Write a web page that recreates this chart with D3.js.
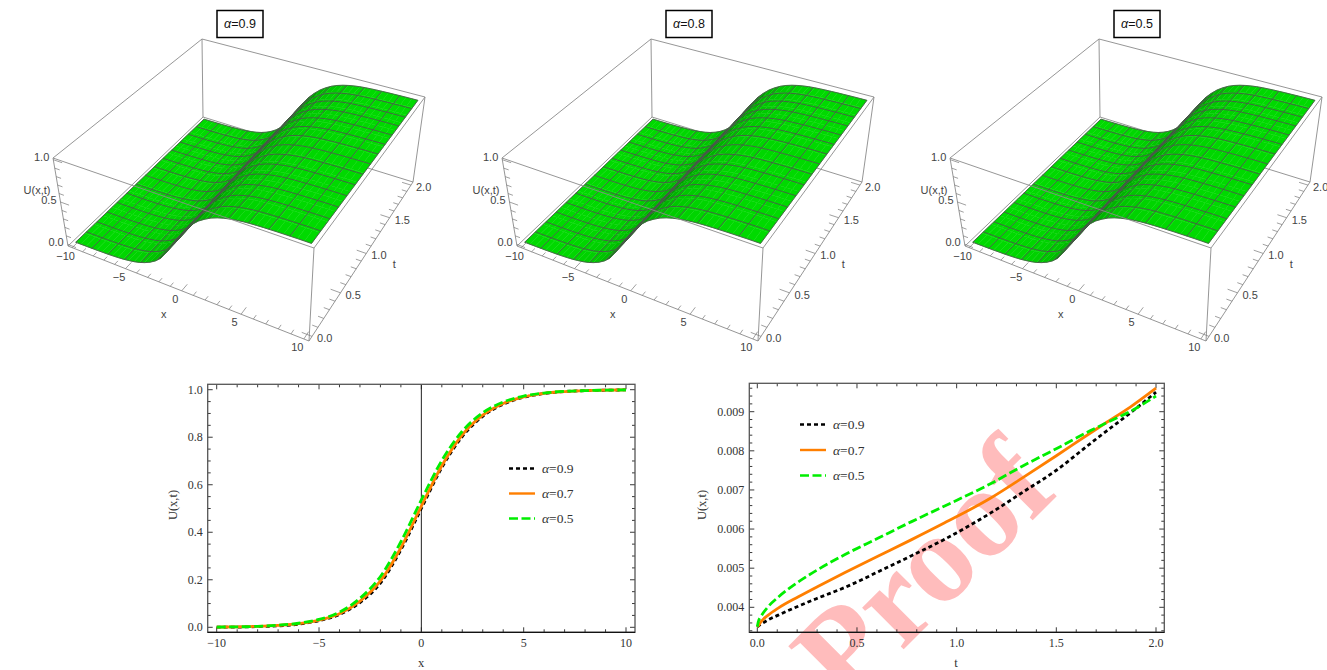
<!DOCTYPE html>
<html>
<head>
<meta charset="utf-8">
<script src="https://cdn.jsdelivr.net/npm/d3@7"></script>
<style>
body { margin: 0; background: white; }
svg { display: block; }
</style>
</head>
<body>
<svg id="canvas" width="1327" height="670"></svg>
<script>
// surface panels
var panelTitles = ['0.9', '0.8', '0.5'];
var panelOffsets = [0, 449, 897];
var surfaceX = [-10,-9.5,-9,-8.5,-8,-7.5,-7,-6.5,-6,-5.5,-5,-4.5,-4,-3.5,-3,-2.5,-2,-1.5,-1,-0.5,0,0.5,1,1.5,2,2.5,3,3.5,4,4.5,5,5.5,6,6.5,7,7.5,8,8.5,9,9.5,10];
var surfaceU = [0.001,0.001,0.002,0.003,0.004,0.006,0.008,0.011,0.015,0.021,0.03,0.041,0.057,0.08,0.11,0.15,0.205,0.29,0.385,0.49,0.59,0.68,0.75,0.81,0.855,0.893,0.921,0.942,0.958,0.97,0.979,0.985,0.989,0.992,0.994,0.996,0.997,0.998,0.999,0.999,0.999];

// U against x
var xValues = [-10,-9,-8,-7,-6,-5,-4,-3,-2,-1,0,1,2,3,4,5,6,7,8,9,10];
var xBlack = [0.001,0.001,0.003,0.006,0.013,0.028,0.054,0.104,0.186,0.326,0.5,0.672,0.803,0.888,0.939,0.968,0.984,0.992,0.996,0.998,0.999];
var xOrange = [0.001,0.002,0.004,0.008,0.015,0.03,0.057,0.11,0.195,0.335,0.51,0.68,0.81,0.893,0.942,0.97,0.985,0.992,0.996,0.998,0.999];
var xGreen = [0.001,0.002,0.004,0.009,0.017,0.033,0.064,0.122,0.214,0.36,0.536,0.702,0.825,0.903,0.948,0.973,0.986,0.993,0.996,0.998,0.999];

// U against t
var tValues = [0,0.005,0.02,0.055,0.105,0.206,0.306,0.44,0.607,0.774,0.94,1.167,1.334,1.502,1.669,1.753,1.869,2];
var tBlack = [0.0035,0.00352,0.00357,0.00368,0.0038,0.00403,0.00424,0.00451,0.00491,0.00532,0.00574,0.0064,0.00695,0.00751,0.00818,0.00851,0.00896,0.0095];
var tOrange = [0.0035,0.00353,0.00364,0.0038,0.00398,0.00427,0.00454,0.00489,0.00531,0.00573,0.00616,0.00678,0.00732,0.00788,0.00845,0.00873,0.00911,0.0096];
var tGreen = [0.0035,0.00363,0.00378,0.00402,0.00426,0.00465,0.00497,0.00535,0.00577,0.00619,0.00659,0.00715,0.00762,0.00806,0.00851,0.00872,0.009,0.0094];

var legendLabels = ['0.9', '0.7', '0.5'];
var lineColors = ['black', '#ff7f00', '#00ee00'];
var lineDashes = ['4,3', null, '9,3.5'];

var svg = d3.select('#canvas');
var serif = '"Liberation Serif", serif';
var sans = '"Liberation Sans", sans-serif';

// box corners on screen for the first panel: [x lo t lo, x hi t lo, x hi t hi, x lo t hi]
var floorCorners = [[68,246],[309,341],[413,182],[203,117]];
var roofCorners = [[53,158],[314,248],[425,97],[202,39]];
var xBox = d3.scaleLinear().domain([-10.4, 10.4]).range([0, 1]);
var tBox = d3.scaleLinear().domain([-0.05, 2.05]).range([0, 1]);
var zBox = d3.scaleLinear().domain([-0.02, 1.02]).range([0, 1]);

function homography(q){
    var dx1 = q[1][0]-q[2][0], dx2 = q[3][0]-q[2][0], sx = q[0][0]-q[1][0]+q[2][0]-q[3][0];
    var dy1 = q[1][1]-q[2][1], dy2 = q[3][1]-q[2][1], sy = q[0][1]-q[1][1]+q[2][1]-q[3][1];
    var den = dx1*dy2-dx2*dy1;
    var g = (sx*dy2-dx2*sy)/den, h = (dx1*sy-sx*dy1)/den;
    var a = q[1][0]-q[0][0]+g*q[1][0], b = q[3][0]-q[0][0]+h*q[3][0];
    var d = q[1][1]-q[0][1]+g*q[1][1], e = q[3][1]-q[0][1]+h*q[3][1];
    return function(u, v){
        var w = g*u+h*v+1;
        return [(a*u+b*v+q[0][0])/w, (d*u+e*v+q[0][1])/w];
    };
}
var floorMap = homography(floorCorners);
var roofMap = homography(roofCorners);

function project(x, t, z){
    var u = xBox(x), v = tBox(t), k = zBox(z);
    var p0 = floorMap(u, v), p1 = roofMap(u, v);
    return [p0[0]+(p1[0]-p0[0])*k, p0[1]+(p1[1]-p0[1])*k];
}

var uAt = d3.scaleLinear().domain(surfaceX).range(surfaceU);
var shade = d3.scaleLinear().domain([0, 0.35, 0.65, 0.88, 1]).range(['#00da00', '#00c000', '#009000', '#1a5c1a', '#2c422c']).clamp(true);
var meshLine = d3.line();
var xCells = 13, tCells = 14;

function drawSurfacePanel(title, offset){
    var g = svg.append('g').attr('transform', 'translate(' + offset + ',0)');
    var xLo = xBox.domain()[0], xHi = xBox.domain()[1];
    var tLo = tBox.domain()[0], tHi = tBox.domain()[1];
    var zLo = zBox.domain()[0], zHi = zBox.domain()[1];

    function edge(a, b){
        g.append('line')
            .attr('x1', project(a[0],a[1],a[2])[0]).attr('y1', project(a[0],a[1],a[2])[1])
            .attr('x2', project(b[0],b[1],b[2])[0]).attr('y2', project(b[0],b[1],b[2])[1])
            .style('stroke', '#8a8a8a').style('stroke-width', 0.9);
    }

    // back of the box goes under the surface
    edge([xLo,tHi,zLo],[xHi,tHi,zLo]);
    edge([xLo,tHi,zLo],[xLo,tHi,zHi]);
    edge([xHi,tHi,zLo],[xHi,tHi,zHi]);
    edge([xLo,tHi,zHi],[xHi,tHi,zHi]);
    edge([xLo,tLo,zHi],[xLo,tHi,zHi]);
    edge([xLo,tLo,zLo],[xLo,tHi,zLo]);

    // small quads, far strips first
    d3.range(16).reverse().forEach(function(j){
        var t0 = j*2/16, t1 = (j+1)*2/16;
        for (var i = 0; i < surfaceX.length-1; i++){
            var x0 = surfaceX[i], x1 = surfaceX[i+1];
            var slope = (surfaceU[i+1]-surfaceU[i])/(x1-x0);
            var quad = [project(x0,t0,surfaceU[i]), project(x1,t0,surfaceU[i+1]), project(x1,t1,surfaceU[i+1]), project(x0,t1,surfaceU[i])];
            var c = shade(slope/0.21);
            g.append('path').attr('d', meshLine(quad)+'Z').style('fill', c).style('stroke', c).style('stroke-width', 0.4);
        }
    });

    // mesh
    var meshColor = '#4a5a4a';
    d3.range(0, tCells+1).forEach(function(j){
        var t = j*2/tCells;
        var pts = surfaceX.map(function(x, i){ return project(x, t, surfaceU[i]); });
        g.append('path').attr('d', meshLine(pts)).style('fill', 'none').style('stroke', meshColor).style('stroke-width', 0.9);
    });
    d3.range(0, xCells+1).forEach(function(i){
        var x = -10 + i*20/xCells;
        var a = project(x, 0, uAt(x)), b = project(x, 2, uAt(x));
        g.append('path').attr('d', meshLine([a,b])).style('fill', 'none').style('stroke', meshColor).style('stroke-width', 0.9);
    });

    // front edges of the box
    edge([xLo,tLo,zLo],[xHi,tLo,zLo]);
    edge([xHi,tLo,zLo],[xHi,tHi,zLo]);
    edge([xLo,tLo,zLo],[xLo,tLo,zHi]);
    edge([xHi,tLo,zLo],[xHi,tLo,zHi]);
    edge([xLo,tLo,zHi],[xHi,tLo,zHi]);
    edge([xHi,tLo,zHi],[xHi,tHi,zHi]);

    function tick3d(a, b, w){
        var p = project(a[0],a[1],a[2]), q = project(b[0],b[1],b[2]);
        g.append('line').attr('x1',p[0]).attr('y1',p[1]).attr('x2',q[0]).attr('y2',q[1])
            .style('stroke','#777').style('stroke-width',w);
    }
    function label3d(p, dx, dy, text, anchor){
        g.append('text').attr('x', p[0]+dx).attr('y', p[1]+dy).attr('text-anchor', anchor || 'middle')
            .style('font-family', sans).style('font-size', '11px').style('fill', '#444').text(text);
    }

    // x ticks
    d3.range(-10, 11).forEach(function(x){
        var major = x % 5 === 0;
        tick3d([x,tLo,zLo],[x,tLo+(major?0.08:0.045),zLo], 0.7);
        if (major) label3d(project(x,tLo,zLo), -6.5, 12, d3.format('d')(x).replace('-', '\u2212'));
    });
    // t ticks
    d3.range(0, 21).forEach(function(i){
        var t = i/10, major = i % 5 === 0;
        tick3d([xHi,t,zLo],[xHi-(major?0.8:0.45),t,zLo], 0.7);
        if (major) label3d(project(xHi,t,zLo), 5, 6, t.toFixed(1), 'start');
    });
    // z ticks
    d3.range(0, 11).forEach(function(i){
        var z = i/10, major = i % 5 === 0;
        tick3d([xLo,tLo,z],[xLo+(major?0.8:0.45),tLo,z], 0.7);
        if (major) label3d(project(xLo,tLo,z), -4, 1.5, z.toFixed(1), 'end');
    });
    label3d(project(0,tLo,zLo), -18, 27, 'x');
    label3d(project(xHi,1,zLo), 28, 15, 't');
    g.append('text').attr('x', 37).attr('y', 194).attr('text-anchor','middle')
        .style('font-family', sans).style('font-size','11px').style('fill','#444').text('U(x,t)');

    // title box
    g.append('rect').attr('x', 217).attr('y', 10.5).attr('width', 46).attr('height', 27)
        .style('fill','white').style('stroke','black').style('stroke-width',1.5);
    var label = g.append('text').attr('x', 240).attr('y', 28).attr('text-anchor','middle')
        .style('font-family', sans).style('font-size','12.5px').style('fill','#111');
    label.append('tspan').style('font-style','italic').text('\u03b1');
    label.append('tspan').text('=' + title);
}

panelTitles.forEach(function(t, i){ drawSurfacePanel(t, panelOffsets[i]); });

// 2d framed plots
function drawPlot(cfg){
    var g = svg.append('g');
    var x = d3.scaleLinear().domain(cfg.xDomain).range([cfg.xPx[0], cfg.xPx[1]]);
    var y = d3.scaleLinear().domain(cfg.yDomain).range([cfg.yPx[0], cfg.yPx[1]]);
    var b = cfg.frame;

    if (cfg.before) cfg.before(g);

    function seg(x1,y1,x2,y2,w,color){
        g.append('line').attr('x1',x1).attr('y1',y1).attr('x2',x2).attr('y2',y2)
            .style('stroke',color || '#222').style('stroke-width',w);
    }
    cfg.xTicks.forEach(function(v){
        var l = cfg.xMajor(v) ? 5 : 3;
        seg(x(v), b.bottom, x(v), b.bottom-l, 0.9);
        seg(x(v), b.top, x(v), b.top+l, 0.9);
    });
    cfg.yTicks.forEach(function(v){
        var l = cfg.yMajor(v) ? 5 : 3;
        seg(b.left, y(v), b.left+l, y(v), 0.9);
        seg(b.right, y(v), b.right-l, y(v), 0.9);
    });

    g.selectAll('.xlab').data(cfg.xLabels).join('text')
        .attr('x', d => x(d)).attr('y', b.bottom+15).attr('text-anchor','middle')
        .style('font-family', serif).style('font-size','12px').style('fill','#333')
        .text(cfg.xFormat);
    g.selectAll('.ylab').data(cfg.yLabels).join('text')
        .attr('x', b.left-5).attr('y', d => y(d)+4).attr('text-anchor','end')
        .style('font-family', serif).style('font-size','12px').style('fill','#333')
        .text(cfg.yFormat);

    if (cfg.zeroLine) seg(x(0), b.top, x(0), b.bottom, 1);

    var line = d3.line().x(d => x(d[0])).y(d => y(d[1])).curve(d3.curveMonotoneX);
    cfg.series.forEach(function(vals, i){
        g.append('path')
            .attr('d', line(cfg.xData.map((v, k) => [v, vals[k]])))
            .style('fill','none').style('stroke', lineColors[i]).style('stroke-width', 2.8)
            .style('stroke-dasharray', lineDashes[i]);
    });

    g.append('rect').attr('x', b.left).attr('y', b.top).attr('width', b.right-b.left).attr('height', b.bottom-b.top)
        .style('fill','none').style('stroke','#555').style('stroke-width',1.3);
    seg(b.left, b.bottom, b.right, b.bottom, 1, 'black');

    legendLabels.forEach(function(lab, i){
        var ly = cfg.legend.y + i*cfg.legend.step;
        g.append('line').attr('x1', cfg.legend.x).attr('x2', cfg.legend.x+26).attr('y1', ly).attr('y2', ly)
            .style('stroke', lineColors[i]).style('stroke-width', 2.4).style('stroke-dasharray', lineDashes[i]);
        var t = g.append('text').attr('x', cfg.legend.x+33).attr('y', ly+4.5)
            .style('font-family', serif).style('font-size','13.5px').style('fill','#333');
        t.append('tspan').style('font-style','italic').text('\u03b1');
        t.append('tspan').text('=' + lab);
    });

    g.append('text').attr('x', cfg.xTitle[0]).attr('y', cfg.xTitle[1]).attr('text-anchor','middle')
        .style('font-family', serif).style('font-size','12.5px').style('fill','#333').text(cfg.xName);
    g.append('text').attr('transform','translate(' + cfg.yTitle[0] + ',' + cfg.yTitle[1] + ') rotate(-90)').attr('text-anchor','middle')
        .style('font-family', serif).style('font-size','12.5px').style('fill','#333').text('U(x,t)');
}

drawPlot({
    xDomain: [-10, 10], xPx: [216.7, 626],
    yDomain: [0, 1], yPx: [627.3, 389.7],
    frame: {left: 207.7, right: 635, top: 384.3, bottom: 632.3},
    xTicks: d3.range(-10, 11), xMajor: v => v % 5 === 0,
    yTicks: d3.range(0, 21).map(v => v/20), yMajor: v => Math.round(v*20) % 4 === 0,
    xLabels: [-10,-5,0,5,10], yLabels: [0,0.2,0.4,0.6,0.8,1],
    xFormat: d => String(d).replace('-', '\u2212'), yFormat: d => d.toFixed(1),
    xData: xValues, series: [xBlack, xOrange, xGreen],
    zeroLine: true,
    legend: {x: 509, y: 468.5, step: 25},
    xName: 'x', xTitle: [421, 667], yTitle: [177, 505]
});

drawPlot({
    xDomain: [0, 2], xPx: [757.3, 1156],
    yDomain: [0.004, 0.009], yPx: [607.3, 411.7],
    frame: {left: 749.3, right: 1164.3, top: 383.3, bottom: 632.3},
    xTicks: d3.range(0, 21).map(v => v/10), xMajor: v => Math.round(v*10) % 5 === 0,
    yTicks: d3.range(17, 49).map(v => v/5000), yMajor: v => Math.round(v*5000) % 5 === 0,
    xLabels: [0,0.5,1,1.5,2], yLabels: [0.004,0.005,0.006,0.007,0.008,0.009],
    xFormat: d => d.toFixed(1), yFormat: d => d.toFixed(3),
    xData: tValues, series: [tBlack, tOrange, tGreen],
    zeroLine: false,
    legend: {x: 800, y: 424.5, step: 25.5},
    xName: 't', xTitle: [956, 667], yTitle: [706, 505],
    before: function(g){
        g.append('text').attr('transform','translate(846,707) rotate(-45)')
            .style('font-family', serif).style('font-weight','bold').style('font-size','128px').style('fill','#ffbcbc').text('Proof');
    }
});
</script>
</body>
</html>
